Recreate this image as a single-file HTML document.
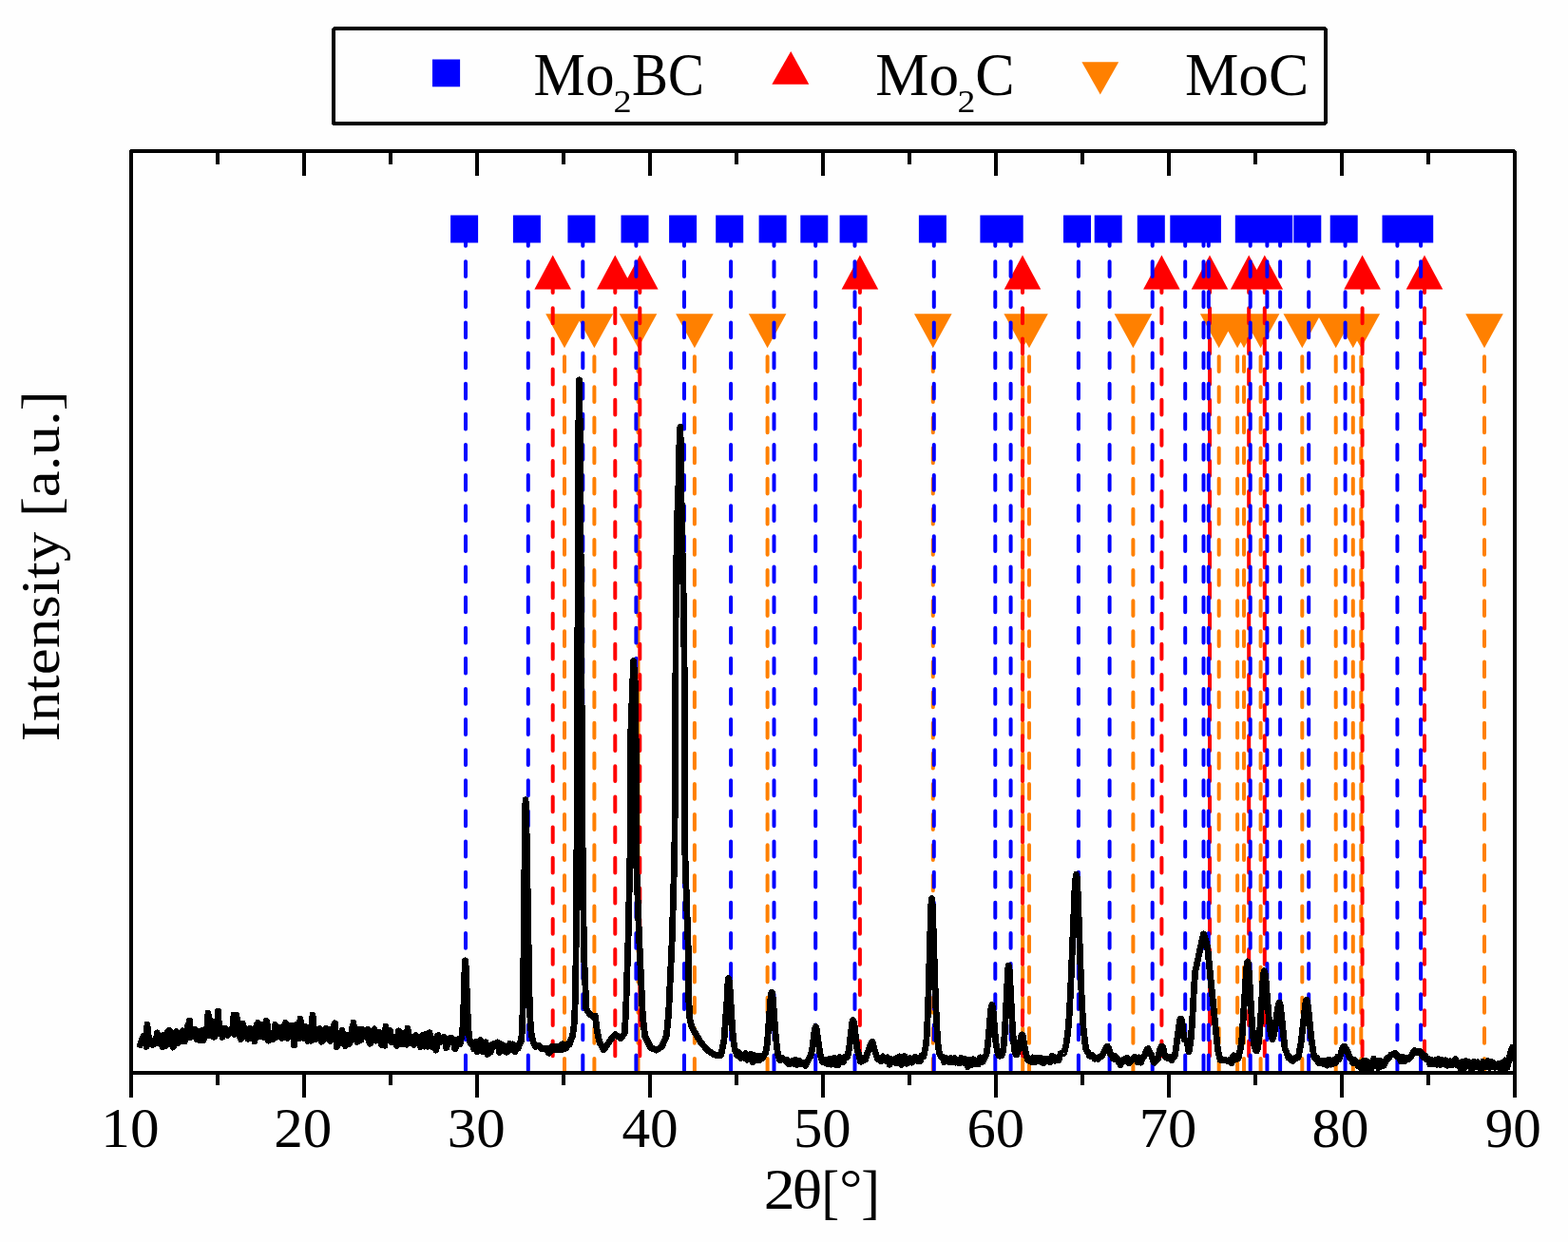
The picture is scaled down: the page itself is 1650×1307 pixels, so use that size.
<!DOCTYPE html>
<html><head><meta charset="utf-8"><title>XRD pattern</title>
<style>
html,body{margin:0;padding:0;background:#fff;}
svg{display:block;}
text{font-family:'Liberation Serif', 'DejaVu Serif', serif;fill:#000;}
</style></head>
<body>
<svg width="1650" height="1307" viewBox="0 0 1650 1307">
<rect width="1650" height="1307" fill="#fefefe"/>
<!-- legend -->
<rect x="350.8" y="30.2" width="1044" height="99.9" fill="none" stroke="#000" stroke-width="3.6" stroke-linejoin="bevel" shape-rendering="crispEdges"/>
<rect x="455" y="62.5" width="29.1" height="28.8" fill="#0000ff"/>
<path d="M832.2 53.9L851.3 88.7H812.3z" fill="#ff0000"/>
<path d="M1138.4 65.2H1177.2L1157.8 99.5z" fill="#ff8000"/>
<text x="561.5" y="100.1" font-size="62.6" textLength="85.0" lengthAdjust="spacingAndGlyphs">Mo</text><text x="645.6" y="118.0" font-size="33.4" textLength="19.2" lengthAdjust="spacingAndGlyphs">2</text><text x="665.1" y="100.1" font-size="62.6" textLength="76.0" lengthAdjust="spacingAndGlyphs">BC</text><text x="921.2" y="100.1" font-size="62.6" textLength="87.8" lengthAdjust="spacingAndGlyphs">Mo</text><text x="1007.5" y="118.0" font-size="33.4" textLength="18.9" lengthAdjust="spacingAndGlyphs">2</text><text x="1026.2" y="100.1" font-size="62.6" textLength="41.4" lengthAdjust="spacingAndGlyphs">C</text><text x="1246.9" y="100.0" font-size="62.6" textLength="130.5" lengthAdjust="spacingAndGlyphs">MoC</text>
<!-- markers -->
<path d="M574.2 330.3H613.8L594.0 366.3zM605.6 330.3H645.2L625.4 366.3zM651.7 330.3H691.3L671.5 366.3zM711.1 330.3H750.7L730.9 366.3zM787.8 330.3H827.4L807.6 366.3zM962.0 330.3H1001.6L981.8 366.3zM1056.4 330.3H1096.0L1076.2 366.3zM1063.2 330.3H1102.8L1083.0 366.3zM1172.6 330.3H1212.2L1192.4 366.3zM1262.9 330.3H1302.5L1282.7 366.3zM1282.3 330.3H1321.9L1302.1 366.3zM1289.2 330.3H1328.8L1309.0 366.3zM1306.8 330.3H1346.4L1326.6 366.3zM1350.5 330.3H1390.1L1370.3 366.3zM1385.9 330.3H1425.5L1405.7 366.3zM1404.0 330.3H1443.6L1423.8 366.3zM1412.5 330.3H1452.1L1432.3 366.3zM1542.2 330.3H1581.8L1562.0 366.3z" fill="#ff8000"/>
<path d="M581.7 268.5L601.0 304.6H562.4zM647.3 268.5L666.6 304.6H628.0zM673.3 268.5L692.6 304.6H654.0zM904.9 268.5L924.2 304.6H885.6zM1076.0 268.5L1095.3 304.6H1056.7zM1222.4 268.5L1241.7 304.6H1203.1zM1273.0 268.5L1292.3 304.6H1253.7zM1314.2 268.5L1333.5 304.6H1294.9zM1330.8 268.5L1350.1 304.6H1311.5zM1433.6 268.5L1452.9 304.6H1414.3zM1499.0 268.5L1518.3 304.6H1479.7z" fill="#ff0000"/>
<path d="M474.1 226.5h29v29h-29zM539.9 226.5h29v29h-29zM597.4 226.5h29v29h-29zM653.5 226.5h29v29h-29zM704.1 226.5h29v29h-29zM753.2 226.5h29v29h-29zM798.6 226.5h29v29h-29zM842.3 226.5h29v29h-29zM883.6 226.5h29v29h-29zM966.9 226.5h29v29h-29zM1031.4 226.5h29v29h-29zM1047.7 226.5h29v29h-29zM1119.0 226.5h29v29h-29zM1151.7 226.5h29v29h-29zM1196.8 226.5h29v29h-29zM1231.3 226.5h29v29h-29zM1250.6 226.5h29v29h-29zM1255.9 226.5h29v29h-29zM1299.8 226.5h29v29h-29zM1317.5 226.5h29v29h-29zM1331.2 226.5h29v29h-29zM1361.3 226.5h29v29h-29zM1399.7 226.5h29v29h-29zM1454.5 226.5h29v29h-29zM1479.2 226.5h29v29h-29z" fill="#0000ff"/>
<path d="M594.0 343.0V1127.0M625.4 343.0V1127.0M671.5 343.0V1127.0M730.9 343.0V1127.0M807.6 343.0V1127.0M981.8 343.0V1127.0M1076.2 343.0V1127.0M1083.0 343.0V1127.0M1192.4 343.0V1127.0M1282.7 343.0V1127.0M1302.1 343.0V1127.0M1309.0 343.0V1127.0M1326.6 343.0V1127.0M1370.3 343.0V1127.0M1405.7 343.0V1127.0M1423.8 343.0V1127.0M1432.3 343.0V1127.0M1562.0 343.0V1127.0" stroke="#ff8000" stroke-width="4" stroke-dasharray="15.8 16.33" stroke-linecap="round" fill="none"/>
<path d="M581.7 292.2V1127.0M647.3 292.2V1127.0M673.3 292.2V1127.0M904.9 292.2V1127.0M1076.0 292.2V1127.0M1222.4 292.2V1127.0M1273.0 292.2V1127.0M1314.2 292.2V1127.0M1330.8 292.2V1127.0M1433.6 292.2V1127.0M1499.0 292.2V1127.0" stroke="#ff0000" stroke-width="4" stroke-dasharray="15.8 16.33" stroke-linecap="round" fill="none"/>
<path d="M490.0 243.0V1127.0M555.8 243.0V1127.0M613.3 243.0V1127.0M669.4 243.0V1127.0M720.0 243.0V1127.0M769.1 243.0V1127.0M814.5 243.0V1127.0M858.2 243.0V1127.0M899.5 243.0V1127.0M982.8 243.0V1127.0M1047.3 243.0V1127.0M1063.6 243.0V1127.0M1134.9 243.0V1127.0M1167.6 243.0V1127.0M1212.7 243.0V1127.0M1247.2 243.0V1127.0M1266.5 243.0V1127.0M1271.8 243.0V1127.0M1315.7 243.0V1127.0M1333.4 243.0V1127.0M1347.1 243.0V1127.0M1377.2 243.0V1127.0M1415.6 243.0V1127.0M1470.4 243.0V1127.0M1495.1 243.0V1127.0" stroke="#0000ff" stroke-width="4" stroke-dasharray="15.8 16.33" stroke-linecap="round" fill="none"/>
<!-- curve -->
<path d="M147.5,1099.7 149.5,1093.2 151.0,1090.1 152.5,1089.8 153.0,1090.8 154.0,1101.3 154.5,1084.0 155.0,1078.0 156.0,1095.8 156.5,1090.8 160.0,1099.5 160.5,1099.6 161.5,1099.1 163.5,1097.7 165.5,1086.9 167.0,1096.8 167.5,1098.2 169.0,1094.2 170.5,1100.7 171.0,1101.7 172.5,1089.1 173.0,1089.7 174.5,1100.8 176.5,1085.9 178.0,1084.2 179.5,1085.4 180.0,1086.7 181.5,1100.7 182.0,1102.1 183.5,1099.5 185.0,1086.3 185.5,1085.4 187.0,1098.0 189.0,1089.7 190.5,1095.6 191.0,1094.4 192.5,1084.7 194.0,1094.9 194.5,1096.0 197.5,1079.8 198.0,1078.5 198.5,1083.6 199.5,1074.0 200.5,1091.6 201.5,1086.4 203.0,1088.9 203.5,1088.6 205.0,1083.4 207.0,1093.8 208.5,1085.2 209.0,1085.8 210.5,1094.6 212.0,1085.3 212.5,1084.8 214.0,1095.1 216.0,1083.3 217.5,1081.2 218.0,1083.6 219.0,1066.0 219.5,1072.0 220.0,1089.8 221.0,1076.1 221.5,1073.3 223.0,1083.0 225.0,1091.2 226.5,1090.0 227.0,1087.7 228.5,1077.2 229.5,1064.0 230.0,1070.0 230.5,1087.7 232.0,1081.5 234.0,1091.5 235.5,1083.6 236.0,1082.5 237.5,1082.4 239.0,1088.9 239.5,1089.7 241.0,1085.1 241.5,1085.3 242.5,1086.4 243.0,1086.5 244.5,1081.0 245.0,1082.2 246.0,1068.0 246.5,1074.0 247.0,1088.4 248.0,1081.4 249.0,1068.0 250.0,1084.2 253.5,1093.6 254.0,1091.2 255.5,1077.1 257.0,1089.0 257.5,1090.3 259.0,1082.5 261.0,1093.2 262.5,1082.6 263.0,1082.3 264.5,1088.1 266.0,1083.1 266.5,1083.7 268.0,1096.1 270.0,1078.8 271.5,1076.3 272.0,1078.4 273.5,1090.8 275.0,1079.2 275.5,1078.4 277.0,1089.8 277.5,1091.0 278.5,1091.8 279.0,1091.0 280.5,1074.3 281.0,1076.0 282.5,1095.2 284.0,1091.8 284.5,1091.3 287.5,1093.6 288.0,1092.9 289.5,1078.4 290.0,1078.9 291.5,1091.3 295.0,1081.6 297.0,1092.3 298.5,1081.6 299.0,1079.5 300.5,1076.3 302.0,1091.1 302.5,1092.3 304.0,1078.9 306.0,1088.9 307.5,1079.2 308.0,1081.6 309.5,1099.9 311.5,1078.5 313.0,1080.0 315.0,1092.9 315.5,1078.0 316.0,1072.0 316.5,1077.4 317.0,1077.9 318.5,1090.7 320.0,1092.9 320.5,1091.9 322.0,1080.7 324.0,1095.6 325.5,1084.6 326.0,1085.1 327.5,1095.2 328.0,1094.7 328.5,1074.0 329.0,1068.0 329.5,1074.0 330.0,1088.8 331.0,1082.3 333.0,1093.6 334.5,1086.8 336.5,1082.5 338.0,1095.0 338.5,1096.2 340.0,1086.4 342.0,1093.4 343.5,1082.3 344.0,1082.6 345.5,1091.7 347.0,1095.1 347.5,1095.3 349.0,1092.2 351.0,1079.7 352.5,1076.8 354.5,1101.7 356.0,1096.1 356.5,1095.3 358.0,1097.8 360.0,1084.4 361.5,1094.7 362.0,1096.9 363.5,1100.6 365.0,1090.3 365.5,1089.5 367.0,1098.5 367.5,1098.4 369.0,1095.0 370.5,1082.0 371.0,1083.0 371.5,1082.0 372.0,1076.0 373.0,1093.9 374.0,1088.3 374.5,1087.8 376.0,1096.4 378.0,1083.4 379.5,1094.8 380.0,1094.2 381.5,1083.5 383.5,1087.1 385.0,1091.1 386.5,1084.5 387.0,1083.5 388.5,1096.7 389.0,1098.2 390.5,1096.9 392.5,1085.0 394.0,1082.8 396.0,1095.1 397.5,1088.8 398.0,1087.7 399.5,1086.6 401.0,1098.1 401.5,1099.3 403.0,1090.8 405.0,1100.3 405.5,1086.0 406.0,1080.0 407.0,1094.6 410.0,1084.5 410.5,1085.0 412.0,1096.6 412.5,1095.9 414.0,1091.1 415.5,1096.2 417.5,1100.5 419.0,1087.0 419.5,1084.8 421.0,1088.7 423.0,1098.7 424.5,1087.7 425.0,1088.0 426.5,1096.9 428.0,1099.3 429.0,1082.0 429.5,1088.0 430.5,1090.8 432.0,1097.3 433.5,1091.2 434.0,1092.0 435.5,1099.6 437.5,1089.6 439.0,1091.1 440.5,1091.1 441.0,1091.7 442.5,1101.6 443.0,1100.7 444.5,1089.8 446.0,1100.5 446.5,1101.0 448.0,1088.5 450.0,1101.2 451.5,1087.2 452.0,1086.7 455.0,1101.6 455.5,1102.0 457.0,1093.2 459.0,1105.1 460.5,1090.0 461.0,1089.6 462.5,1097.2 464.5,1094.6 466.0,1091.5 467.5,1091.2 468.0,1091.9 469.5,1102.7 470.0,1102.4 471.5,1093.7 473.5,1092.6 475.0,1092.4 476.5,1093.9 477.0,1094.9 478.5,1103.6 479.0,1103.8 482.0,1093.6 482.5,1093.4 484.0,1098.6 486.5,1087.7 487.5,1071.5 489.0,1019.9 489.6,1010.8 490.0,1013.6 490.5,1023.9 492.5,1077.0 493.5,1089.5 495.0,1098.2 495.5,1098.5 496.5,1098.2 497.0,1099.0 498.5,1103.7 500.0,1096.5 500.5,1096.4 502.0,1106.9 504.0,1096.9 505.5,1094.7 506.0,1096.4 507.5,1106.5 509.0,1106.5 509.5,1105.4 511.0,1096.8 513.0,1109.3 514.5,1100.1 515.0,1100.2 516.5,1107.1 518.5,1098.8 520.0,1098.4 522.0,1100.7 523.5,1096.9 524.0,1098.2 525.5,1107.4 527.0,1099.6 527.5,1099.0 529.0,1106.0 531.0,1100.7 532.5,1106.8 533.0,1107.3 534.5,1106.3 536.0,1099.4 536.5,1098.3 538.0,1100.4 539.5,1098.9 540.0,1099.0 541.5,1106.2 542.0,1106.7 543.5,1104.2 545.0,1103.4 547.0,1097.5 548.0,1096.7 548.5,1095.1 549.5,1083.7 550.5,1047.0 552.5,861.3 553.0,841.8 553.5,849.5 554.0,870.5 557.0,1045.5 558.0,1073.2 558.5,1081.3 559.5,1090.2 561.0,1096.2 563.0,1101.0 563.5,1101.6 565.0,1100.4 566.5,1100.4 567.0,1100.5 569.0,1103.0 570.5,1103.9 572.0,1103.1 572.5,1103.0 574.0,1104.2 575.5,1103.2 576.0,1103.2 577.5,1108.1 578.0,1108.2 581.0,1101.4 581.5,1101.1 583.0,1104.4 585.0,1101.1 586.5,1105.0 587.0,1104.7 588.5,1100.9 590.0,1105.0 590.5,1104.9 592.0,1098.6 594.0,1103.9 595.5,1103.0 597.5,1098.7 599.0,1099.3 599.5,1098.6 601.0,1093.3 602.5,1090.1 604.0,1079.4 605.0,1062.1 606.0,1012.5 607.0,882.6 608.5,522.1 609.0,426.9 609.4,399.8 610.0,426.9 610.5,484.8 613.0,882.3 614.4,1000.0 616.9,1061.9 620.7,1067.3 624.6,1069.9 626.4,1069.2 628.1,1083.6 630.8,1096.6 635.2,1104.8 644.0,1092.2 647.5,1088.6 652.8,1092.6 657.2,1087.9 658.5,1067.0 661.0,990.0 663.0,899.6 663.8,770.2 666.6,695.4 668.1,715.5 669.1,769.8 669.4,899.8 672.2,977.4 676.4,1069.9 678.7,1090.4 684.7,1102.4 690.6,1105.1 696.5,1101.5 701.3,1090.2 703.6,1066.4 707.2,989.6 709.8,899.7 710.8,779.7 711.0,660.1 712.3,551.7 713.8,517.0 714.8,470.1 715.8,449.5 716.4,470.0 717.4,552.1 719.5,639.8 720.3,720.0 720.9,899.7 724.3,1000.3 724.8,1052.7 725.9,1071.9 727.6,1079.7 732.3,1088.5 737.8,1097.4 744.8,1105.5 751.0,1109.5 755.7,1111.1 758.8,1110.6 762.0,1093.9 765.1,1051.2 765.5,1040.1 766.0,1033.5 766.7,1029.6 767.5,1033.7 768.0,1039.4 770.5,1079.9 771.5,1091.9 772.5,1099.8 773.5,1104.8 775.5,1110.5 776.0,1110.5 777.5,1107.4 779.0,1112.8 779.5,1113.6 781.0,1111.2 783.0,1113.1 784.5,1108.6 785.0,1109.2 786.5,1115.3 788.5,1110.4 790.0,1109.5 792.0,1118.0 793.5,1110.4 794.0,1110.5 795.5,1115.9 797.0,1111.6 797.5,1111.4 799.0,1116.0 801.0,1111.8 802.5,1113.3 803.0,1112.8 804.5,1109.2 805.5,1108.3 806.5,1104.4 807.5,1096.1 811.0,1049.7 811.5,1045.4 812.1,1044.0 812.5,1044.6 813.5,1053.0 816.0,1086.6 817.5,1102.4 819.0,1111.1 820.5,1115.6 821.0,1115.7 822.5,1113.1 824.5,1114.4 826.0,1116.2 828.0,1115.3 829.5,1119.3 830.0,1119.8 831.5,1119.5 833.0,1116.6 833.5,1116.3 835.0,1119.3 837.0,1115.3 838.5,1120.3 839.0,1120.2 840.5,1116.0 842.0,1119.3 842.5,1119.7 844.0,1117.9 844.5,1117.9 846.0,1118.7 847.5,1121.4 848.0,1121.0 849.5,1117.1 852.5,1112.0 854.0,1107.8 855.0,1102.1 857.0,1085.3 857.5,1082.5 858.3,1080.4 859.0,1082.1 859.5,1084.6 863.0,1109.2 864.0,1113.3 865.5,1117.3 866.0,1117.5 867.5,1115.2 869.5,1118.8 871.0,1119.8 873.0,1114.0 874.5,1120.1 875.0,1119.9 876.5,1115.1 878.0,1113.4 878.5,1114.0 880.0,1120.7 880.5,1121.1 881.5,1121.0 882.0,1120.4 883.5,1113.2 884.0,1112.6 885.5,1114.1 887.0,1117.7 887.5,1117.6 889.0,1112.6 890.5,1113.1 891.0,1113.0 892.0,1111.5 893.5,1103.4 896.5,1078.2 897.0,1075.2 897.7,1073.4 898.5,1075.4 899.0,1078.4 902.0,1104.0 902.5,1106.3 903.5,1108.5 905.5,1117.2 907.0,1117.2 909.0,1113.2 910.5,1115.0 911.0,1114.1 912.5,1109.1 917.0,1097.0 917.4,1097.0 918.0,1096.2 920.0,1104.2 923.5,1114.4 924.0,1114.7 925.0,1114.6 926.5,1116.3 927.0,1116.5 928.5,1112.3 929.0,1111.9 930.5,1113.2 932.0,1116.2 932.5,1116.3 934.0,1112.8 936.0,1120.3 937.5,1114.7 938.0,1114.7 939.5,1118.0 941.0,1114.6 941.5,1114.6 943.0,1119.0 945.0,1112.6 946.5,1111.9 948.5,1120.6 950.5,1111.9 952.0,1111.7 954.0,1119.4 955.5,1116.0 957.5,1113.6 959.0,1117.8 959.5,1118.1 961.0,1113.9 962.5,1112.3 963.0,1112.2 964.5,1116.3 965.0,1116.2 966.5,1113.4 968.0,1116.5 968.5,1116.2 970.0,1110.6 971.5,1111.8 972.0,1111.5 974.0,1101.5 975.0,1093.0 976.5,1063.1 979.5,959.9 980.0,949.4 980.5,945.6 981.0,948.8 981.5,957.6 984.5,1052.6 986.5,1092.8 987.5,1102.8 988.5,1108.4 990.0,1111.6 991.5,1112.0 992.0,1112.9 993.5,1117.7 995.0,1114.0 995.5,1113.5 997.5,1116.5 999.0,1117.9 1000.5,1113.7 1001.0,1113.9 1002.5,1117.7 1004.0,1113.8 1004.5,1113.5 1006.0,1118.1 1008.0,1115.6 1009.5,1119.0 1010.0,1118.5 1011.5,1113.2 1013.0,1117.6 1013.5,1118.0 1015.0,1114.1 1018.5,1122.8 1019.0,1121.9 1020.5,1115.2 1022.0,1120.2 1022.5,1120.4 1024.0,1114.6 1026.0,1119.0 1027.5,1119.8 1029.5,1119.8 1031.0,1113.4 1031.5,1112.9 1033.0,1117.9 1033.5,1117.8 1034.5,1116.7 1036.5,1112.1 1037.5,1110.7 1038.5,1107.3 1040.0,1093.4 1042.5,1064.2 1043.0,1060.2 1043.8,1057.4 1044.5,1059.6 1045.0,1063.2 1047.5,1093.1 1048.5,1101.1 1050.0,1107.7 1051.0,1110.5 1052.0,1111.2 1053.5,1110.9 1054.0,1110.4 1055.0,1108.1 1055.5,1106.0 1056.5,1098.2 1058.0,1074.2 1060.5,1022.9 1061.0,1017.4 1061.4,1016.0 1062.0,1018.5 1062.5,1024.7 1065.0,1073.6 1066.5,1095.5 1067.5,1104.6 1068.0,1107.3 1069.0,1110.1 1069.5,1110.0 1070.0,1109.2 1072.0,1104.2 1074.5,1091.4 1075.0,1089.6 1075.5,1089.0 1076.0,1089.3 1076.5,1091.0 1079.0,1106.3 1081.5,1115.3 1082.0,1115.8 1083.5,1114.1 1085.0,1117.5 1085.5,1117.6 1087.0,1112.9 1089.0,1118.0 1090.5,1113.4 1091.0,1113.4 1092.5,1116.5 1094.0,1113.1 1094.5,1113.0 1096.0,1117.4 1097.5,1118.8 1098.0,1118.7 1099.5,1114.0 1100.0,1113.9 1101.5,1116.5 1103.0,1114.5 1103.5,1114.6 1105.0,1117.5 1107.0,1111.2 1108.5,1112.1 1110.5,1116.2 1112.0,1113.5 1112.5,1113.3 1114.0,1115.5 1116.0,1108.7 1118.5,1108.9 1119.5,1108.5 1120.5,1105.5 1122.0,1098.7 1124.0,1083.6 1125.0,1071.4 1126.5,1044.2 1131.0,935.3 1132.0,922.4 1132.6,920.1 1133.0,921.3 1133.5,926.4 1134.0,934.9 1138.0,1044.4 1139.5,1074.1 1140.5,1086.6 1142.0,1099.0 1143.0,1104.8 1143.5,1105.8 1145.0,1107.5 1146.5,1111.3 1150.0,1110.8 1152.0,1114.3 1153.5,1113.1 1155.5,1114.3 1157.5,1111.9 1159.0,1112.0 1162.5,1105.9 1164.5,1101.5 1165.2,1102.2 1165.5,1101.2 1166.5,1102.5 1168.0,1108.5 1168.5,1109.4 1170.0,1110.5 1171.5,1114.1 1172.0,1114.2 1173.5,1111.4 1175.5,1113.7 1177.0,1117.5 1179.0,1120.5 1182.5,1114.9 1184.0,1116.5 1184.5,1116.4 1186.0,1113.1 1188.0,1119.0 1193.5,1112.6 1195.0,1112.6 1197.0,1117.4 1198.5,1112.9 1199.0,1113.4 1200.5,1118.1 1202.0,1114.4 1204.0,1111.6 1207.0,1104.3 1208.0,1103.6 1211.5,1110.0 1213.5,1116.8 1214.5,1118.2 1215.0,1118.3 1216.5,1114.3 1217.0,1114.2 1218.0,1114.8 1218.5,1114.4 1220.5,1104.3 1221.5,1102.6 1222.0,1102.3 1222.3,1101.0 1223.5,1101.9 1224.0,1102.8 1226.0,1112.1 1226.5,1112.4 1227.5,1111.5 1229.0,1113.6 1229.5,1113.8 1231.0,1112.1 1233.0,1115.5 1234.5,1112.3 1235.5,1112.0 1236.5,1110.2 1241.0,1077.3 1242.0,1072.4 1242.5,1072.0 1243.0,1072.1 1244.0,1076.6 1246.0,1093.3 1249.0,1096.0 1251.0,1106.8 1253.0,1095.9 1254.6,1075.2 1256.4,1040.1 1257.7,1022.7 1266.4,982.8 1268.5,988.2 1270.5,995.5 1281.5,1104.9 1284.0,1115.3 1288.9,1115.6 1291.5,1116.2 1292.5,1116.9 1294.0,1115.2 1295.5,1118.6 1296.0,1119.0 1297.5,1111.5 1298.0,1110.8 1299.5,1112.1 1301.0,1114.4 1301.5,1114.7 1303.0,1113.7 1303.5,1111.9 1306.0,1100.2 1307.0,1091.4 1311.5,1021.4 1312.0,1015.9 1312.5,1012.7 1312.9,1012.0 1313.5,1014.0 1314.5,1024.9 1317.0,1068.3 1318.5,1089.1 1320.0,1101.0 1321.0,1104.2 1322.0,1105.9 1322.5,1105.8 1323.0,1105.0 1323.5,1102.9 1325.0,1092.1 1326.5,1073.3 1329.0,1031.1 1329.5,1025.4 1330.3,1021.7 1331.0,1023.4 1332.0,1030.9 1335.5,1074.4 1336.5,1083.2 1338.0,1091.3 1339.0,1093.7 1340.0,1091.4 1342.0,1080.4 1344.5,1061.0 1345.5,1056.4 1346.3,1055.0 1347.0,1057.0 1348.0,1063.6 1352.0,1102.8 1352.5,1104.7 1353.0,1105.8 1353.5,1106.2 1355.5,1113.0 1357.0,1111.8 1359.0,1115.9 1360.5,1116.3 1362.5,1113.7 1364.0,1112.6 1364.5,1112.5 1365.5,1113.1 1366.0,1112.9 1366.5,1111.1 1369.0,1098.0 1373.5,1058.2 1374.0,1054.9 1374.5,1052.9 1374.9,1052.4 1375.5,1053.4 1376.5,1059.6 1380.0,1093.7 1382.5,1110.9 1384.0,1114.2 1384.5,1114.3 1386.0,1113.5 1387.5,1118.2 1388.0,1118.7 1389.5,1118.3 1391.0,1116.2 1391.5,1116.2 1393.0,1119.5 1395.0,1116.6 1396.5,1121.2 1397.0,1120.7 1398.5,1115.1 1400.5,1120.2 1402.0,1119.6 1404.0,1115.5 1405.5,1118.4 1406.0,1117.6 1407.5,1112.3 1409.0,1114.5 1409.5,1113.9 1412.5,1104.0 1413.0,1102.7 1414.0,1101.5 1414.7,1102.0 1415.0,1101.5 1415.5,1102.2 1418.0,1106.6 1420.0,1112.2 1420.5,1113.0 1422.0,1114.2 1423.5,1118.5 1424.0,1118.6 1425.5,1115.3 1427.5,1117.7 1429.0,1121.6 1431.0,1119.0 1432.5,1124.1 1433.0,1123.4 1434.5,1116.4 1436.0,1123.8 1436.5,1124.3 1438.0,1116.6 1440.0,1124.6 1441.5,1118.5 1442.0,1118.7 1443.5,1123.9 1445.0,1115.2 1445.5,1114.1 1447.0,1118.8 1448.5,1116.5 1449.0,1116.2 1450.5,1123.7 1451.0,1123.3 1452.5,1116.4 1454.0,1121.1 1454.5,1121.9 1456.0,1121.3 1458.0,1117.4 1459.5,1113.4 1460.0,1113.0 1461.5,1113.6 1463.5,1110.2 1466.0,1110.0 1466.7,1109.0 1467.0,1109.9 1468.5,1108.4 1469.0,1108.9 1470.5,1112.2 1472.0,1112.0 1472.5,1112.5 1474.0,1116.5 1476.0,1112.3 1477.5,1116.7 1478.0,1116.6 1479.5,1113.2 1481.0,1114.7 1481.5,1114.8 1483.0,1113.8 1485.0,1111.4 1488.5,1105.4 1490.0,1107.9 1490.7,1106.0 1491.0,1107.5 1492.0,1106.4 1494.0,1105.9 1495.5,1107.5 1497.5,1112.3 1499.0,1110.7 1499.5,1110.7 1501.0,1114.9 1501.5,1114.9 1502.5,1114.1 1503.0,1114.1 1504.5,1120.0 1505.0,1120.1 1506.5,1115.4 1508.0,1119.3 1508.5,1119.6 1510.0,1115.8 1512.0,1120.3 1513.5,1114.5 1514.0,1114.8 1515.5,1120.4 1517.0,1115.8 1517.5,1115.4 1519.0,1119.8 1521.0,1115.7 1522.5,1121.3 1523.0,1121.4 1524.5,1118.3 1526.0,1116.8 1526.5,1117.0 1528.0,1120.6 1531.5,1114.6 1532.0,1115.4 1533.5,1121.0 1535.0,1121.1 1535.5,1121.6 1537.0,1124.9 1539.0,1117.3 1540.5,1124.5 1541.0,1124.0 1542.5,1116.6 1544.0,1120.9 1544.5,1121.2 1546.0,1117.5 1548.0,1125.2 1549.5,1124.9 1551.5,1117.3 1553.0,1122.4 1553.5,1122.8 1555.0,1117.8 1558.5,1126.1 1559.0,1125.0 1560.5,1117.3 1562.5,1121.7 1564.0,1122.6 1566.0,1116.6 1567.5,1123.5 1568.0,1123.3 1569.5,1117.6 1571.0,1118.3 1571.5,1119.0 1573.0,1123.2 1575.0,1120.6 1576.5,1119.6 1578.5,1124.7 1580.0,1119.2 1580.5,1118.8 1582.0,1123.7 1584.0,1115.9 1585.5,1123.5 1586.0,1123.3 1587.5,1117.3 1588.5,1115.4 1589.0,1109.0 1591.2,1102.5" fill="none" stroke="#000" stroke-width="6.8" stroke-linejoin="round" stroke-linecap="round" shape-rendering="crispEdges"/>
<!-- frame -->
<rect x="138.1" y="159.0" width="1455.5" height="969.9" fill="none" stroke="#000" stroke-width="4.2" stroke-linejoin="bevel" shape-rendering="crispEdges"/>
<path d="M138.1 1128.9V1154.7M229.1 159.0V173.3M229.1 1128.9V1141.9M320.0 159.0V184.5M320.0 1128.9V1154.7M411.0 159.0V173.3M411.0 1128.9V1141.9M502.0 159.0V184.5M502.0 1128.9V1154.7M592.9 159.0V173.3M592.9 1128.9V1141.9M683.9 159.0V184.5M683.9 1128.9V1154.7M774.9 159.0V173.3M774.9 1128.9V1141.9M865.9 159.0V184.5M865.9 1128.9V1154.7M956.8 159.0V173.3M956.8 1128.9V1141.9M1047.8 159.0V184.5M1047.8 1128.9V1154.7M1138.8 159.0V173.3M1138.8 1128.9V1141.9M1229.7 159.0V184.5M1229.7 1128.9V1154.7M1320.7 159.0V173.3M1320.7 1128.9V1141.9M1411.7 159.0V184.5M1411.7 1128.9V1154.7M1502.6 159.0V173.3M1502.6 1128.9V1141.9M1593.6 1128.9V1154.7" stroke="#000" stroke-width="4.2" fill="none" shape-rendering="crispEdges"/>
<text x="106.3" y="1207.3" font-size="58.5" textLength="61.3" lengthAdjust="spacingAndGlyphs">10</text><text x="288.3" y="1207.3" font-size="58.5" textLength="61.1" lengthAdjust="spacingAndGlyphs">20</text><text x="470.8" y="1207.3" font-size="58.5" textLength="61.0" lengthAdjust="spacingAndGlyphs">30</text><text x="654.4" y="1207.3" font-size="58.5" textLength="59.3" lengthAdjust="spacingAndGlyphs">40</text><text x="834.9" y="1207.3" font-size="58.5" textLength="60.7" lengthAdjust="spacingAndGlyphs">50</text><text x="1017.4" y="1207.3" font-size="58.5" textLength="60.7" lengthAdjust="spacingAndGlyphs">60</text><text x="1198.7" y="1207.3" font-size="58.5" textLength="60.6" lengthAdjust="spacingAndGlyphs">70</text><text x="1380.6" y="1207.3" font-size="58.5" textLength="60.0" lengthAdjust="spacingAndGlyphs">80</text><text x="1562.7" y="1207.3" font-size="58.5" textLength="59.1" lengthAdjust="spacingAndGlyphs">90</text>
<text x="803.7" y="1271.5" font-size="60.3" textLength="33.0" lengthAdjust="spacingAndGlyphs">2</text><text x="833.4" y="1270.9" font-size="56.1" textLength="31.8" lengthAdjust="spacingAndGlyphs">θ</text><text x="864.5" y="1275.2" font-size="63.0" textLength="18.6" lengthAdjust="spacingAndGlyphs">[</text><text x="883.3" y="1269.8" font-size="56.7" textLength="24.1" lengthAdjust="spacingAndGlyphs">°</text><text x="906.3" y="1275.2" font-size="63.0" textLength="19.7" lengthAdjust="spacingAndGlyphs">]</text>
<text x="-780.2" y="62.0" font-size="56.7" textLength="368.9" lengthAdjust="spacingAndGlyphs" transform="rotate(-90)">Intensity [a.u.]</text>
</svg>
</body></html>
